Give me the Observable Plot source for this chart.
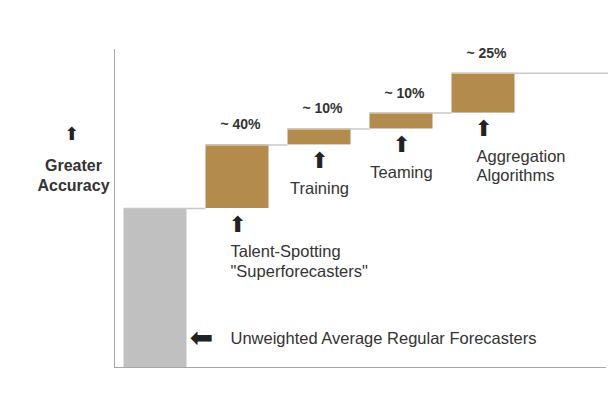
<!DOCTYPE html>
<html><head><meta charset="utf-8">
<script src="https://cdn.jsdelivr.net/npm/d3@7"></script>
<script src="https://cdn.jsdelivr.net/npm/@observablehq/plot@0.6"></script>
<style>body{margin:0;background:#fff}</style>
</head><body><div id="chart"></div>
<script>
const steps = ["Unweighted Average Regular Forecasters", "Talent-Spotting\n\"Superforecasters\"", "Training", "Teaming", "Aggregation\nAlgorithms"];
const gains = [100, 40, 10, 10, 25];
const gainLabels = ["", "~ 40%", "~ 10%", "~ 10%", "~ 25%"];
const axisLabel = "Greater\nAccuracy";
const yDomain = [0, 200];
const xDomain = [-0.5, 5.5];
const centeredSteps = ["Training", "Teaming"];

let acc = 0;
const table = steps.map((step, i) => {
  const y1 = acc; acc += gains[i];
  return {i, step, gain: gains[i], label: gainLabels[i], y1, y2: acc, base: i === 0};
});
const half = 0.384;
const tail = 1.87;
const connectors = table.map((d, k) => ({
  x1: d.i - half,
  x2: k < table.length - 1 ? table[k + 1].i - half : d.i + tail,
  y: d.y2
}));
const gainsTable = table.filter(d => !d.base);

const chart = Plot.plot({
  width: 608, height: 394,
  marginLeft: 114, marginRight: 2, marginTop: 49, marginBottom: 27,
  x: {axis: null, domain: xDomain},
  y: {axis: null, domain: yDomain},
  style: {fontFamily: "'Liberation Sans', Arial, sans-serif", background: "#fff", color: "#333"},
  marks: [
    Plot.rectY(table.filter(d => d.base), {x1: d => d.i - half, x2: d => d.i + half, y1: "y1", y2: "y2", fill: "#c0c0c0"}),
    Plot.rectY(gainsTable, {x1: d => d.i - half, x2: d => d.i + half, y1: "y1", y2: "y2", fill: "#b38b4d"}),
    Plot.ruleY(connectors, {y: "y", x1: "x1", x2: "x2", stroke: "#c8c8c8", strokeWidth: 1.5}),
    Plot.ruleX([xDomain[0]], {stroke: "#a6a6a6", strokeWidth: 1}),
    Plot.ruleY([0], {stroke: "#a6a6a6", strokeWidth: 1}),
    Plot.text(gainsTable, {x: "i", y: "y2", text: "label", dy: -20, dx: 3, fontWeight: "bold", fontSize: 14, fill: "#333"}),
    Plot.text(gainsTable, {x: "i", y: "y1", text: () => "\u2B06", dy: 16, fontFamily: "DejaVu Sans", fontSize: 22, fill: "#222"}),
    Plot.text(gainsTable.filter(d => centeredSteps.includes(d.step)), {x: "i", y: "y1", text: "step", lineAnchor: "top", dy: 35, fontSize: 16.5, lineHeight: 1.17, fill: "#333"}),
    Plot.text(gainsTable.filter(d => !centeredSteps.includes(d.step)), {x: "i", y: "y1", text: "step", lineAnchor: "top", textAnchor: "start", dx: -7, dy: 35, fontSize: 16.5, lineHeight: 1.17, fill: "#333"}),
    Plot.text(table.filter(d => d.base), {x: "i", frameAnchor: "bottom", lineAnchor: "middle", text: "step", textAnchor: "start", dx: 75, dy: -29, fontSize: 16.5, fill: "#333"}),
    Plot.text(table.filter(d => d.base), {x: "i", frameAnchor: "bottom", lineAnchor: "middle", text: () => "\u2B05", dx: 46, dy: -29, fontFamily: "DejaVu Sans", fontSize: 28, fill: "#222"}),
    Plot.text([axisLabel], {frameAnchor: "left", textAnchor: "middle", lineAnchor: "middle", text: d => d, dx: -41, dy: -34, fontWeight: "bold", fontSize: 16, lineHeight: 1.25, fill: "#333"}),
    Plot.text(["\u2B06"], {frameAnchor: "left", textAnchor: "middle", lineAnchor: "middle", text: d => d, dx: -43, dy: -74, fontFamily: "DejaVu Sans", fontSize: 18, fill: "#222"})
  ]
});
document.getElementById("chart").appendChild(chart);
</script>
</body></html>
